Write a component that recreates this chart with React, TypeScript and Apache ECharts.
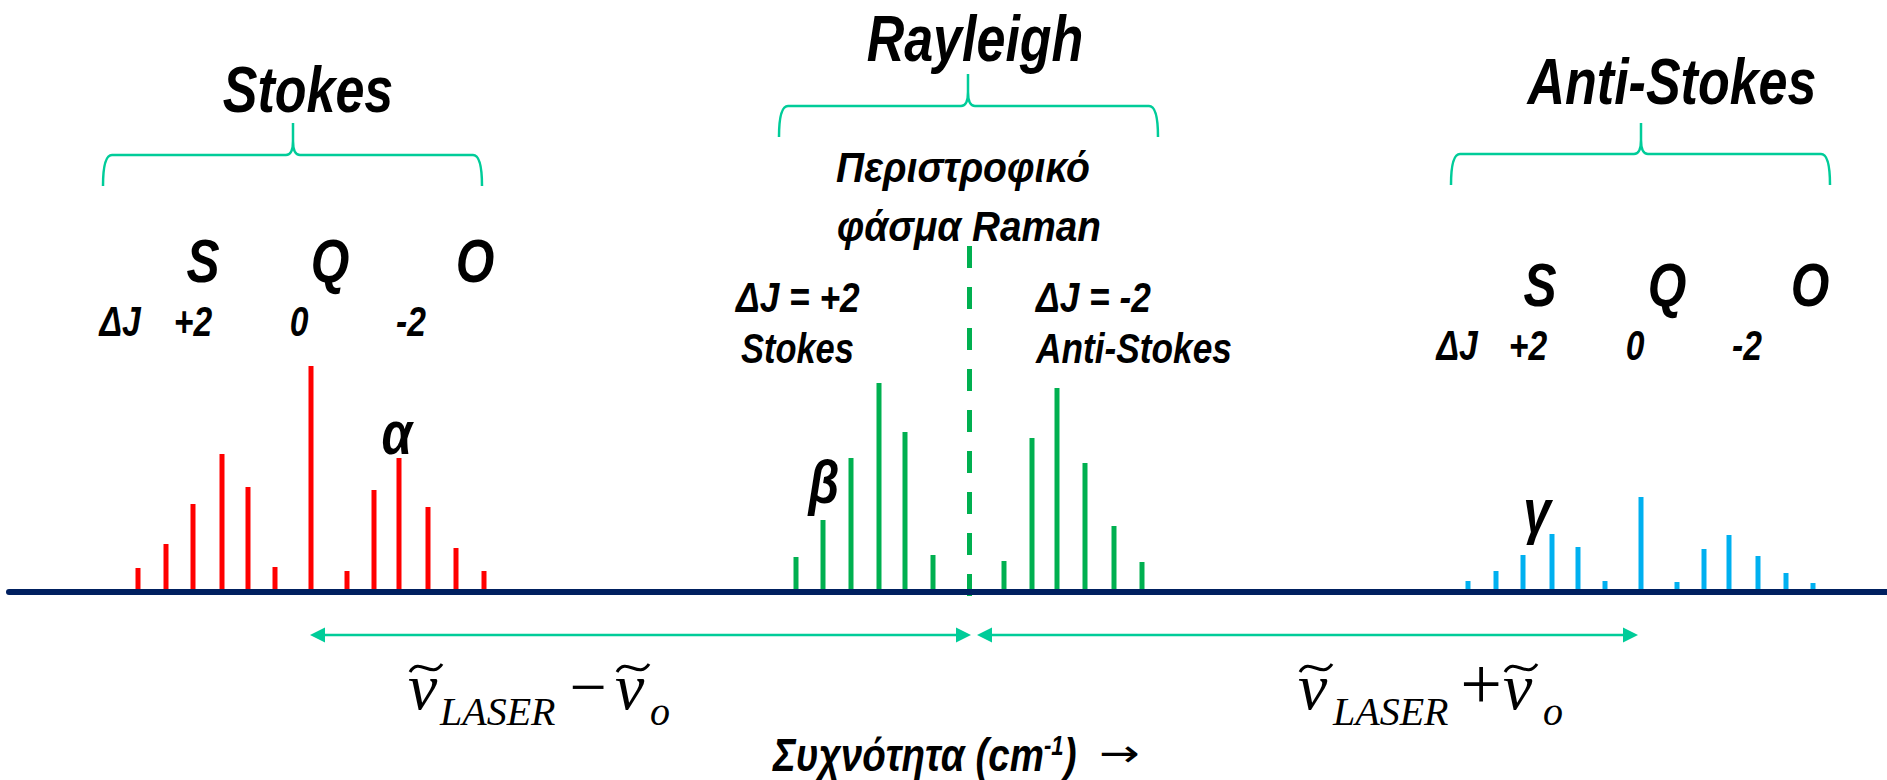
import React, { useEffect, useRef } from "react";
import * as echarts from "echarts";

// Raman shift relative to the Rayleigh line (arbitrary units)
const stokesShift = [-831, -803, -776, -747, -721, -694, -658, -622, -595, -570, -541, -513, -485];
const stokesIntensity = [24, 48, 88, 138, 105, 25, 226, 21, 102, 134, 85, 44, 21];
const rotShift = [-173, -146, -118, -90, -64, -36, 35, 63, 88, 116, 145, 173];
const rotIntensity = [35, 72, 134, 209, 160, 37, 31, 154, 204, 129, 66, 30];
const antiShift = [499, 527, 554, 583, 609, 636, 672, 708, 735, 760, 789, 817, 844];
const antiIntensity = [11, 21, 37, 58, 45, 11, 95, 10, 43, 57, 36, 19, 9];
const rayleighShift = 0;
const rayleighMarkerTop = 346;
const shiftMin = -960;
const shiftMax = 918;

const branchLetters = ["S", "Q", "O"];
const deltaJLabels = ["ΔJ", "+2", "0", "-2"];

const SANS = "'Liberation Sans', Arial, sans-serif";
const SERIF = "'Liberation Serif', 'Times New Roman', serif";
const TEAL = "#00CC99";
const NARROW_SCALE = 0.8;

const Brace = (echarts.graphic as any).extendShape({
  shape: { x0: 0, x1: 0, xm: 0, yb: 0, yh: 0, yt: 0 },
  buildPath(ctx: any, s: any) {
    ctx.moveTo(s.x0, s.yb);
    ctx.quadraticCurveTo(s.x0, s.yh, s.x0 + 9, s.yh);
    ctx.lineTo(s.xm - 7, s.yh);
    ctx.quadraticCurveTo(s.xm, s.yh, s.xm, s.yh - 14);
    ctx.lineTo(s.xm, s.yt);
    ctx.moveTo(s.xm, s.yh - 14);
    ctx.quadraticCurveTo(s.xm, s.yh, s.xm + 7, s.yh);
    ctx.lineTo(s.x1 - 9, s.yh);
    ctx.quadraticCurveTo(s.x1, s.yh, s.x1, s.yb);
  },
});
(echarts.graphic as any).registerShape("brace", Brace);

function txt(text: string, x: number, y: number, size: number, align = "center", scale = NARROW_SCALE) {
  return {
    type: "text",
    x,
    y,
    scaleX: scale,
    silent: true,
    style: {
      text,
      fill: "#000",
      fontFamily: SANS,
      fontWeight: "bold",
      fontStyle: "italic",
      fontSize: size,
      align,
      verticalAlign: "middle",
    },
  };
}

function serif(text: string, x: number, y: number, size: number, italic = true, align = "left") {
  return {
    type: "text",
    x,
    y,
    silent: true,
    style: {
      text,
      fill: "#000",
      fontFamily: SERIF,
      fontStyle: italic ? "italic" : "normal",
      fontSize: size,
      align,
      verticalAlign: "middle",
    },
  };
}

function tilde(x: number, y: number) {
  return {
    type: "bezierCurve",
    silent: true,
    shape: { x1: x, y1: y + 8, cpx1: x + 9, cpy1: y - 8, cpx2: x + 22, cpy2: y + 16, x2: x + 32, y2: y },
    style: { stroke: "#000", lineWidth: 3, fill: null },
  };
}

function brace(x0: number, x1: number, xm: number, yb: number, yh: number, yt: number) {
  return {
    type: "brace",
    silent: true,
    shape: { x0, x1, xm, yb, yh, yt },
    style: { stroke: TEAL, lineWidth: 2.5, fill: null },
  };
}

function arrow(xa: number, xb: number, y: number) {
  const h = 15;
  const w = 7.5;
  return [
    { type: "line", silent: true, shape: { x1: xa + h, y1: y, x2: xb - h, y2: y }, style: { stroke: TEAL, lineWidth: 2.5 } },
    { type: "polygon", silent: true, shape: { points: [[xa, y], [xa + h, y - w], [xa + h, y + w]] }, style: { fill: TEAL } },
    { type: "polygon", silent: true, shape: { points: [[xb, y], [xb - h, y - w], [xb - h, y + w]] }, style: { fill: TEAL } },
  ];
}

export default function App() {
  const ref = useRef<HTMLDivElement>(null);

  useEffect(() => {
    if (!ref.current) return;
    document.body.style.margin = "0";
    const chart = echarts.init(ref.current, null, { renderer: "svg" });

    const graphics: any[] = [
      brace(103, 482, 293, 186, 155, 123),
      brace(779, 1158, 968, 137, 106, 74),
      brace(1451, 1830, 1641, 185, 154, 123),
      txt("Stokes", 308, 89, 65),
      txt("Rayleigh", 975, 38, 65),
      txt("Anti-Stokes", 1672, 81, 65),
      txt("Περιστροφικό", 963, 167, 43, "center", 0.91),
      txt("φάσμα Raman", 969, 226, 43, "center", 0.9),
      txt("ΔJ = +2", 736, 297, 42, "left", 0.84),
      txt("Stokes", 741, 348, 42, "left", 0.82),
      txt("ΔJ = -2", 1036, 297, 42, "left", 0.84),
      txt("Anti-Stokes", 1036, 348, 42, "left", 0.84),
      txt("α", 397, 432, 62),
      txt("β", 824, 481, 62),
      txt("γ", 1537, 510, 62),
    ];
    const sqoStokesX = [203, 330, 475];
    const sqoAntiX = [1540, 1667, 1810];
    branchLetters.forEach((l, i) => {
      graphics.push(txt(l, sqoStokesX[i], 260, 62));
      graphics.push(txt(l, sqoAntiX[i], 284, 62));
    });
    const djStokesX = [120, 193, 299, 411];
    const djAntiX = [1457, 1528, 1635, 1747];
    deltaJLabels.forEach((l, i) => {
      graphics.push(txt(l, djStokesX[i], 322, 42));
      graphics.push(txt(l, djAntiX[i], 346, 42));
    });
    graphics.push(...arrow(310, 971, 635));
    graphics.push(...arrow(977, 1638, 635));

    // formulas
    graphics.push(serif("ν", 408, 686, 66), tilde(410, 664), serif("LASER", 440, 711, 40));
    graphics.push(serif("−", 588, 686, 66, false, "center"));
    graphics.push(serif("ν", 615, 686, 66), tilde(617, 664), serif("o", 650, 711, 40));
    graphics.push(serif("ν", 1298, 686, 66), tilde(1300, 664), serif("LASER", 1333, 711, 40));
    graphics.push(serif("+", 1481, 684, 74, false, "center"));
    graphics.push(serif("ν", 1503, 686, 66), tilde(1505, 664), serif("o", 1543, 711, 40));

    // frequency axis caption
    graphics.push({
      type: "text",
      x: 773,
      y: 755,
      scaleX: 0.82,
      silent: true,
      style: {
        text: "{t|Συχνότητα (cm}{s|-1}{t|)}",
        align: "left",
        verticalAlign: "middle",
        rich: {
          t: { fontFamily: SANS, fontWeight: "bold", fontStyle: "italic", fontSize: 47, lineHeight: 46, fill: "#000", color: "#000" },
          s: { fontFamily: SANS, fontWeight: "bold", fontStyle: "italic", fontSize: 27, lineHeight: 27, verticalAlign: "top", fill: "#000", color: "#000" },
        },
      },
    });
    graphics.push({
      type: "text",
      x: 1099,
      y: 753,
      scaleX: 1.28,
      silent: true,
      style: {
        text: "→",
        fontFamily: "'DejaVu Sans', sans-serif",
        fontSize: 38,
        lineHeight: 34,
        fill: "#000",
        align: "left",
        verticalAlign: "middle",
      },
    });

    const toPairs = (xs: number[], ys: number[]) => xs.map((x, i) => [x, ys[i]]);

    chart.setOption({
      animation: false,
      backgroundColor: "#ffffff",
      grid: { left: 9, right: 0, top: 0, bottom: 168 },
      xAxis: {
        type: "value",
        min: shiftMin,
        max: shiftMax,
        z: 5,
        axisLine: { show: true, onZero: true, lineStyle: { color: "#002060", width: 6 } },
        axisTick: { show: false },
        axisLabel: { show: false },
        splitLine: { show: false },
      },
      yAxis: {
        type: "value",
        min: -20,
        max: 592,
        show: false,
        splitLine: { show: false },
      },
      tooltip: { show: false },
      series: [
        {
          name: "Stokes",
          type: "bar",
          barWidth: 5,
          barGap: "-100%",
          silent: true,
          itemStyle: { color: "#FF0000" },
          data: toPairs(stokesShift, stokesIntensity),
        },
        {
          name: "Rotational Raman",
          type: "bar",
          barWidth: 5,
          barGap: "-100%",
          silent: true,
          itemStyle: { color: "#00B050" },
          data: toPairs(rotShift, rotIntensity),
          markLine: {
            silent: true,
            symbol: ["none", "none"],
            label: { show: false },
            emphasis: { disabled: true },
            lineStyle: { color: "#00B050", width: 5, type: [22, 19] },
            data: [[{ coord: [rayleighShift, rayleighMarkerTop] }, { coord: [rayleighShift, -5] }]],
          },
        },
        {
          name: "Anti-Stokes",
          type: "bar",
          barWidth: 5,
          barGap: "-100%",
          silent: true,
          itemStyle: { color: "#00B0F0" },
          data: toPairs(antiShift, antiIntensity),
        },
      ],
      graphic: graphics,
    });

    return () => chart.dispose();
  }, []);

  return <div ref={ref} style={{ width: 1887, height: 780, background: "#fff" }} />;
}
